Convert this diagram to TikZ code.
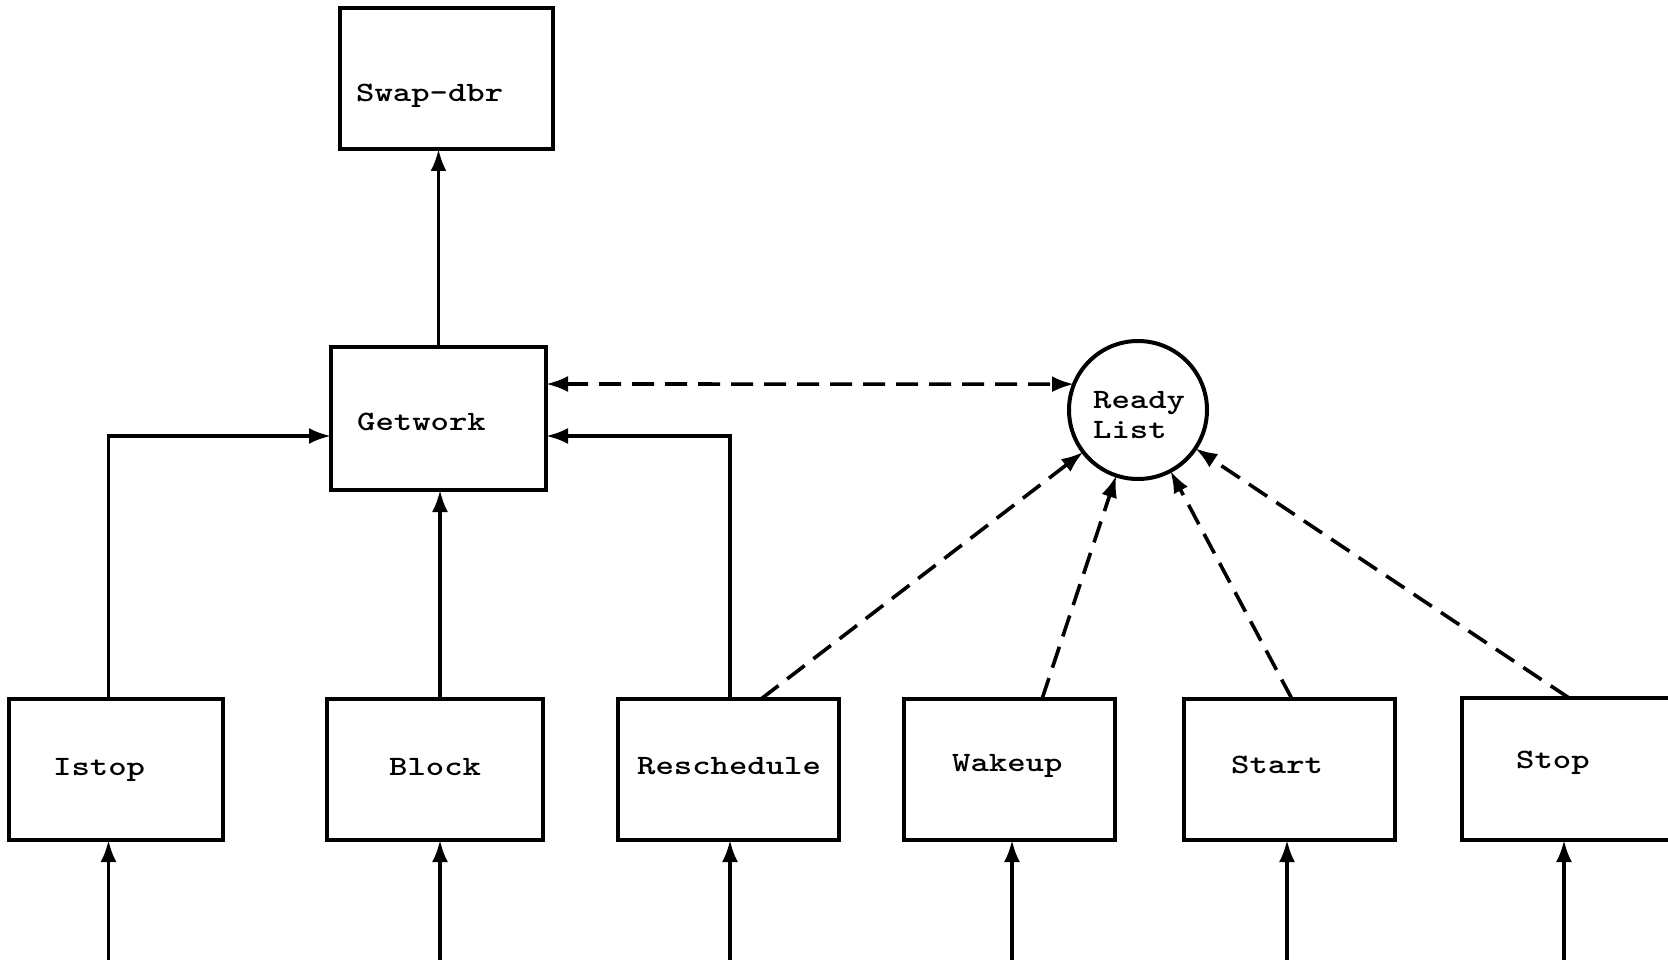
\documentclass[tikz,border=0pt]{standalone}
\usetikzlibrary{arrows.meta,calc}
\newcommand{\twtext}[1]{\scalebox{1.25}[1]{#1}}
\begin{document}
\begin{tikzpicture}[x=1pt,y=-1pt,
  box/.style={draw,rectangle,line width=4pt,inner sep=0pt,outer sep=0pt},
  lbl/.style={font=\ttfamily\bfseries\fontsize{28}{30}\selectfont,inner sep=0pt,anchor=base west},
  tip/.style={-{Latex[length=22pt,width=16pt]}},
  conn/.style={line width=3.6pt,tip},
  dconn/.style={conn,dash pattern=on 22pt off 11pt}]
\useasboundingbox (0,0) rectangle (1668,960);
\fill[white] (0,0) rectangle (1668,960);
\clip (0,0) rectangle (1668,960);
% boxes
\node[box,minimum width=213pt,minimum height=141pt] (swap) at (446.5,78.5) {};
\node[box,minimum width=215pt,minimum height=143pt] (gw) at (438.5,418.5) {};
\node[box,minimum width=214.5pt,minimum height=141pt] (istop) at (115.75,769.5) {};
\node[box,minimum width=216pt,minimum height=141pt] (block) at (435,769.5) {};
\node[box,minimum width=221pt,minimum height=141pt] (resch) at (728.5,769.5) {};
\node[box,minimum width=211pt,minimum height=141pt] (wake) at (1009.5,769.5) {};
\node[box,minimum width=211pt,minimum height=141pt] (start) at (1289.5,769.5) {};
\node[box,minimum width=228pt,minimum height=142pt] (stop) at (1576,769) {};
\node[draw,circle,line width=4pt,minimum size=138pt,inner sep=0pt,outer sep=0pt] (rl) at (1138,410) {};
% labels
\node[lbl] (tswap) at (356,102) {\twtext{Swap-dbr}};
\node[lbl] (tgw) at (357,430) {\twtext{Getwork}};
\node[lbl] (tistop) at (53,775) {\twtext{Istop}};
\node[lbl] (tblock) at (389,775) {\twtext{Block}};
\node[lbl] (tresch) at (637,774) {\twtext{Reschedule}};
\node[lbl] (twake) at (952,771) {\twtext{Wakeup}};
\node[lbl] (tstart) at (1231,773) {\twtext{Start}};
\node[lbl] (tstop) at (1516,768) {\twtext{Stop}};
\node[lbl] (tready) at (1093,408) {\twtext{Ready}};
\node[lbl] (tlist) at (1093,438) {\twtext{List}};
% solid connectors
\draw[conn] (gw.north) -- (gw.north |- swap.south);
\coordinate (istopup) at ($(istop.north west)+(100,0)$);
\draw[conn] (istopup) |- ($(gw.west)+(0,17.5)$);
\coordinate (blockup) at ($(block.north)+(5,0)$);
\draw[conn] (blockup) -- (blockup |- gw.south);
\coordinate (reschup) at ($(resch.north)+(1.5,0)$);
\draw[conn] (reschup) |- ($(gw.east)+(0,17.5)$);
% dashed connectors
\draw[dconn,{Latex[length=22pt,width=16pt]}-{Latex[length=22pt,width=16pt]}] ($(gw.east)+(0,-34.5)$) -- (rl.158);
\coordinate (reschd) at ($(resch.north west)+(143,0)$);
\coordinate (waked) at ($(wake.north west)+(138,0)$);
\coordinate (startd) at ($(start.north west)+(108,0)$);
\coordinate (stopd) at ($(stop.north west)+(107,0)$);
\draw[dconn] (reschd) -- (rl);
\draw[dconn] (waked) -- (rl);
\draw[dconn] (startd) -- (rl);
\draw[dconn] (stopd) -- (rl);
% inputs from below
\coordinate (inistop) at (108.5,965);
\coordinate (inblock) at (440,965);
\coordinate (inresch) at (730,965);
\coordinate (inwake) at (1012,965);
\coordinate (instart) at (1287,965);
\coordinate (instop) at (1564,965);
\draw[conn] (inistop) -- (inistop |- istop.south);
\draw[conn] (inblock) -- (inblock |- block.south);
\draw[conn] (inresch) -- (inresch |- resch.south);
\draw[conn] (inwake) -- (inwake |- wake.south);
\draw[conn] (instart) -- (instart |- start.south);
\draw[conn] (instop) -- (instop |- stop.south);
\end{tikzpicture}
\end{document}
